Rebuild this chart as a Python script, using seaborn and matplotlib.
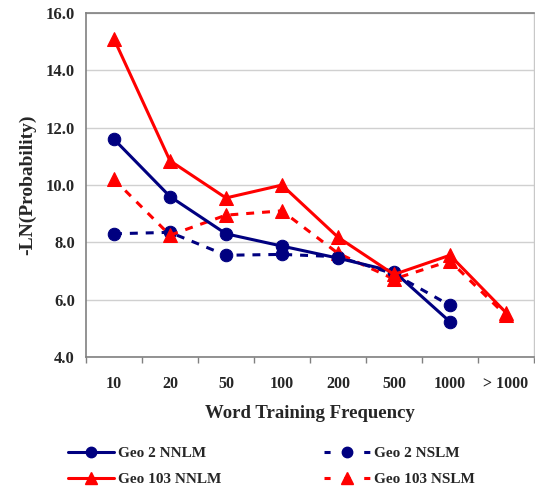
import matplotlib
matplotlib.use("Agg")
import matplotlib.pyplot as plt
import seaborn as sns
import numpy as np
import pandas as pd
from matplotlib.lines import Line2D
from matplotlib.ticker import FixedLocator

categories = ["10", "20", "50", "100", "200", "500", "1000", "> 1000"]
geo2_nnlm = [11.6, 9.6, 8.3, 7.87, 7.45, 6.98, 5.23, np.nan]
geo2_nslm = [8.3, 8.35, 7.55, 7.58, 7.5, 6.9, 5.8, np.nan]
geo103_nnlm = [15.1, 10.85, 9.55, 10.0, 8.18, 6.88, 7.55, 5.55]
geo103_nslm = [10.2, 8.25, 8.95, 9.1, 7.62, 6.72, 7.35, 5.45]
series_names = ["Geo 2 NNLM", "Geo 2 NSLM", "Geo 103 NNLM", "Geo 103 NSLM"]
yticks = [4.0, 6.0, 8.0, 10.0, 12.0, 14.0, 16.0]

sns.set_style("white")
plt.rcParams["font.family"] = ["Liberation Serif", "DejaVu Serif"]
plt.rcParams["font.weight"] = "bold"

fig = plt.figure(figsize=(5.35, 4.87), dpi=100)
ax = fig.add_axes([0.1607, 0.267, 0.998 - 0.1607, 0.973 - 0.267])

navy = "#000080"
red = "#FF0000"
styles = {
    "Geo 2 NNLM": dict(color=navy, marker="o", ls="-", ms=9),
    "Geo 2 NSLM": dict(color=navy, marker="o", ls="--", ms=9),
    "Geo 103 NNLM": dict(color=red, marker="^", ls="-", ms=10),
    "Geo 103 NSLM": dict(color=red, marker="^", ls="--", ms=10),
}
values = dict(zip(series_names, [geo2_nnlm, geo2_nslm, geo103_nnlm, geo103_nslm]))

x_pos = np.arange(len(categories))
draw_order = ["Geo 2 NSLM", "Geo 103 NSLM", "Geo 2 NNLM", "Geo 103 NNLM"]
for name in draw_order:
    st = styles[name]
    df = pd.DataFrame({"x": x_pos, "y": values[name]}).dropna()
    sns.lineplot(data=df, x="x", y="y", ax=ax, color=st["color"], marker=st["marker"],
                 markersize=st["ms"], markeredgecolor=st["color"], linewidth=2.2,
                 sort=False, legend=False)
    line = ax.lines[-1]
    if st["ls"] == "--":
        line.set_dashes((2.6, 2.6))

ax.set_xlim(-0.5, len(categories) - 0.5)
ax.set_ylim(4.0, 16.0)
ax.set_yticks(yticks)
ax.set_yticklabels([f"{v:.1f}" for v in yticks])
ax.set_xticks(x_pos)
ax.set_xticklabels(categories)
ax.xaxis.set_minor_locator(FixedLocator(np.arange(-0.5, len(categories), 1.0)))
ax.tick_params(axis="x", which="major", length=0, pad=14, labelsize=11.5)
ax.tick_params(axis="x", which="minor", length=4, width=1, color="#808080", direction="out", bottom=True)
ax.tick_params(axis="y", length=0, pad=8, labelsize=12)
for lab in ax.get_xticklabels() + ax.get_yticklabels():
    lab.set_fontweight("bold")

ax.grid(axis="y", color="#D0D0D0", linewidth=1)
ax.set_axisbelow(True)
for s in ["left", "bottom", "top"]:
    ax.spines[s].set_color("#808080")
    ax.spines[s].set_linewidth(1.2)
ax.spines["right"].set_color("#C8C8C8")
ax.spines["right"].set_linewidth(1)

ax.set_xlabel("Word Training Frequency", fontsize=13.5, fontweight="bold", labelpad=9)
ax.set_ylabel("-LN(Probability)", fontsize=14, fontweight="bold", labelpad=7)

handles = []
for name in ["Geo 2 NNLM", "Geo 103 NNLM", "Geo 2 NSLM", "Geo 103 NSLM"]:
    st = styles[name]
    h = Line2D([], [], color=st["color"], marker=st["marker"], markersize=st["ms"] - 1.5,
               linewidth=2.2, linestyle=st["ls"], label=name)
    if st["ls"] == "--":
        h.set_dashes((2.0, 4.5))
    handles.append(h)
fig.legend(handles=handles, ncol=2, loc="center", bbox_to_anchor=(0.5075, 0.043),
           frameon=False, prop={"weight": "bold", "size": 11}, handlelength=3.0,
           handletextpad=0.3, columnspacing=6.7, labelspacing=0.8)

fig.savefig("out.png", dpi=100)
